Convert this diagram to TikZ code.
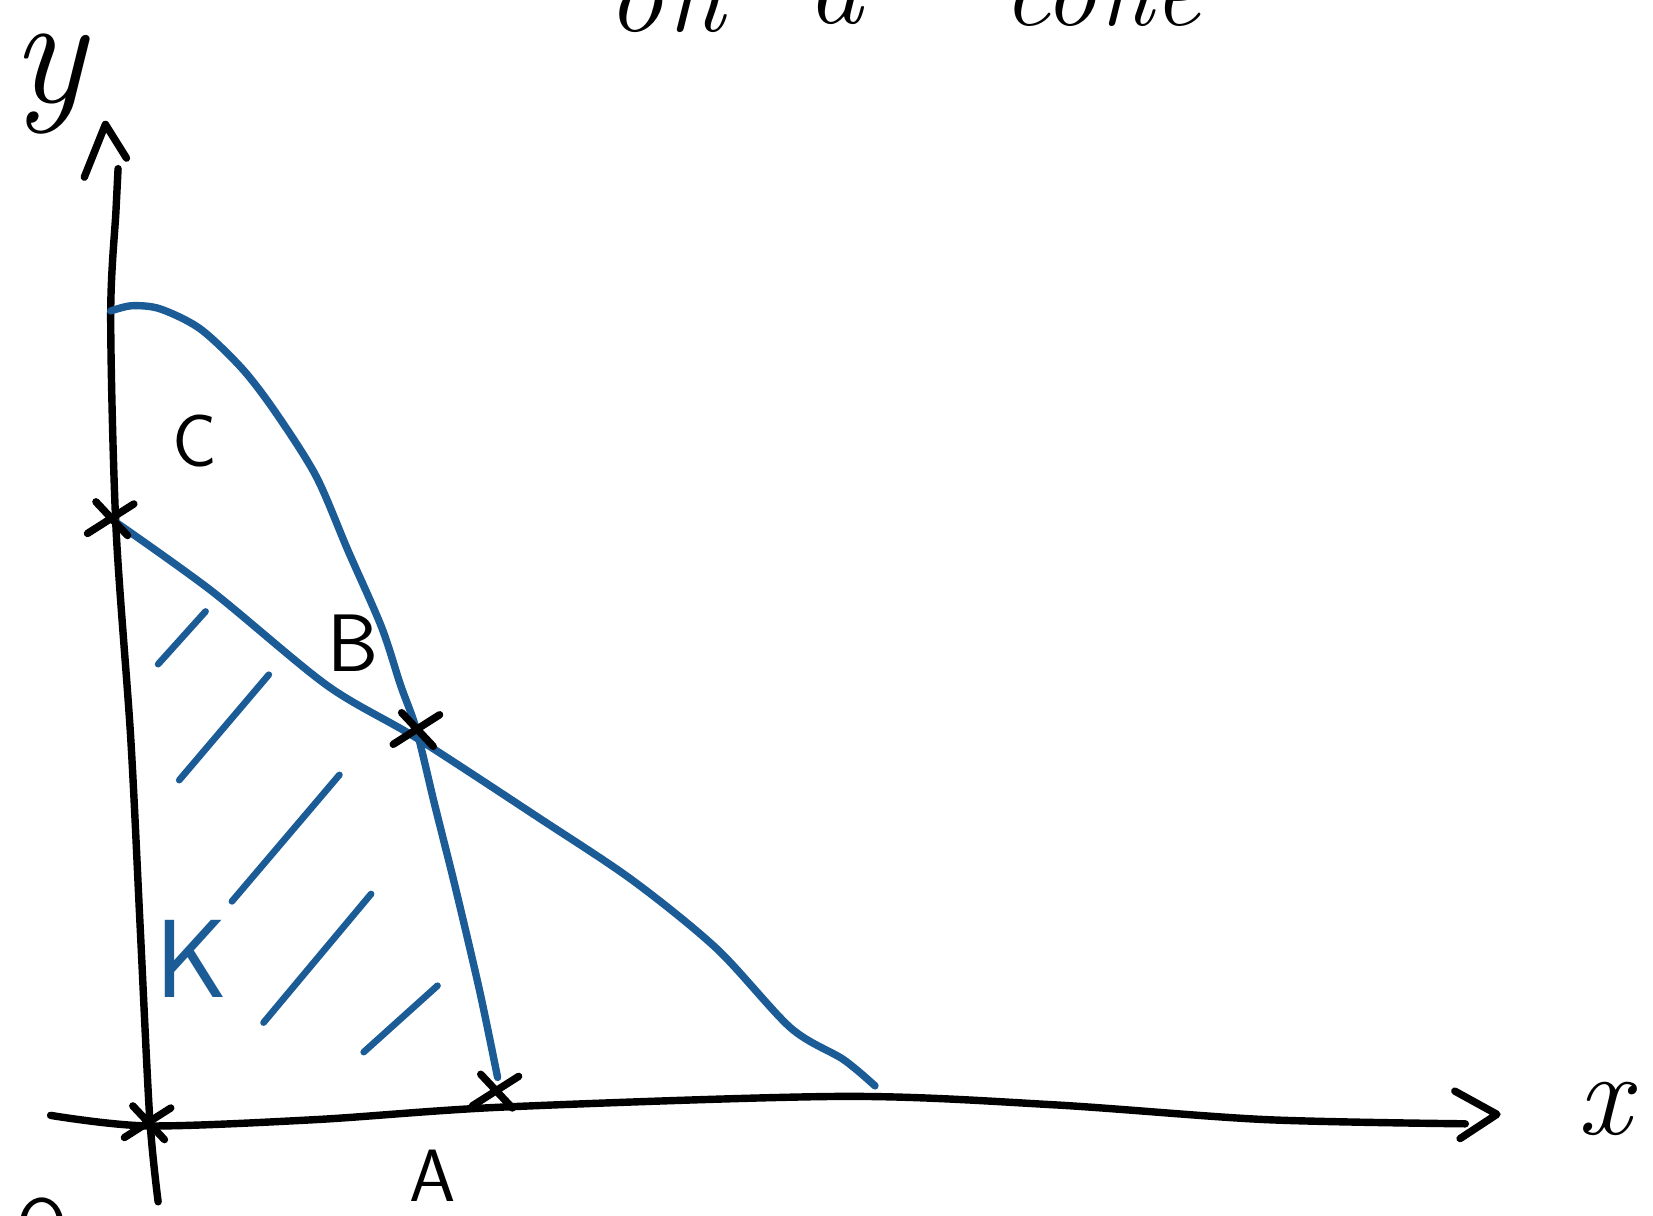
\documentclass[tikz,border=0pt]{standalone}
\definecolor{penblue}{RGB}{28,92,150}
\tikzset{
  axis/.style={line width=2pt, line cap=round, line join=round, black},
  curve/.style={line width=2pt, line cap=round, line join=round, penblue},
  hatch/.style={line width=1.8pt, line cap=round, penblue},
  cross/.style={line width=2pt, line cap=round, black},
  lbl/.style={font=\fontsize{20}{24}\selectfont\sffamily},
}
\begin{document}
\begin{tikzpicture}[x=0.01cm,y=-0.01cm]
\useasboundingbox (0,0) rectangle (1568,1153);

% Title (cut off at the top)
\node[anchor=base, font=\fontsize{30}{34}\selectfont\itshape] (title1) at (632,30) {on};
\node[anchor=base, font=\fontsize{30}{34}\selectfont\itshape] (title2) at (792,22) {a};
\node[anchor=base, font=\fontsize{28}{32}\selectfont\itshape] (title3) at (1045,24) {cone};

% Axes
\draw[axis] plot[smooth] coordinates {(150,1140) (142,1060) (133,880) (124,700) (110,500) (105,300) (110,200) (112,160)};
\draw[axis] (80,168) -- (100,118) -- (120,150);
\draw[axis] plot[smooth] coordinates {(48,1058) (140,1068) (300,1062) (480,1050) (800,1040) (1000,1048) (1200,1062) (1390,1066)};
\draw[axis] (1380,1035) -- (1420,1057) -- (1385,1080);
\node[font=\fontsize{42}{46}\selectfont\itshape] (ylab) at (46,80) {y};
\node[font=\fontsize{32}{36}\selectfont\itshape] (xlab) at (1522,1052) {x};
\node[lbl] (olab) at (40,1162) {O};

% Points
\coordinate (C) at (105,492);
\coordinate (B) at (395,692);
\coordinate (A) at (470,1035);
\coordinate (O) at (140,1065);

% Curves
\draw[curve] plot[smooth] coordinates {(105,295) (125,290) (152,293) (190,312) (230,350) (262,392) (300,452) (330,522) (362,595) (380,650) (395,692) (412,762) (432,842) (455,940) (472,1022)};
\draw[curve] plot[smooth] coordinates {(C) (200,560) (310,650) (395,700) (510,775) (600,835) (680,900) (750,975) (800,1005) (830,1030)};

% Crosses
\foreach \p in {C,B,A,O}
  \draw[cross] ([shift={(-22,14)}]\p) -- ([shift={(22,-14)}]\p)
               ([shift={(-14,-16)}]\p) -- ([shift={(16,16)}]\p);

% Hatching
\draw[hatch] (150,630) -- (195,580);
\draw[hatch] (170,740) -- (255,640);
\draw[hatch] (220,855) -- (322,735);
\draw[hatch] (250,970) -- (352,848);
\draw[hatch] (345,998) -- (415,935);

% Labels
\node[lbl] (clab) at (185,418) {C};
\node[lbl, font=\fontsize{22}{26}\selectfont\sffamily] (blab) at (335,610) {B};
\node[lbl] (alab) at (410,1115) {A};
\node[font=\fontsize{30}{34}\selectfont\sffamily, text=penblue] (klab) at (182,910) {K};

\end{tikzpicture}
\end{document}
